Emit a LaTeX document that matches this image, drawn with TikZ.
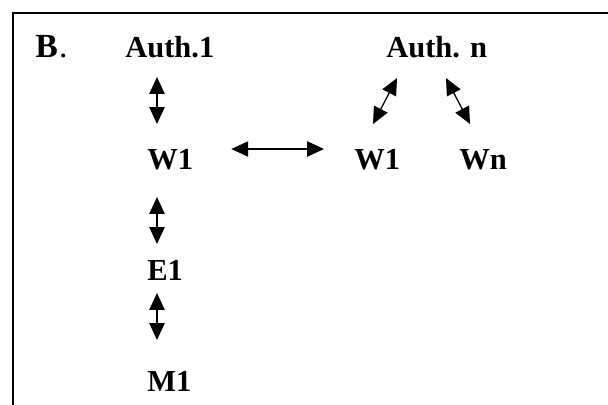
\documentclass[tikz,border=0pt]{standalone}
\usepackage{fontspec}
\setmainfont{Liberation Serif}
\usepackage{tikz}
\usetikzlibrary{arrows.meta}

\begin{document}
\begin{tikzpicture}[
		lbl/.style = {anchor = base west, inner sep = 0pt, font = \fontsize{21.7}{26}\selectfont\bfseries},
		biarr/.style = {draw, line width = 0.9pt, {Triangle[length=0.42cm,width=0.38cm]}-{Triangle[length=0.42cm,width=0.38cm]}}]
		\useasboundingbox (0,0) rectangle (15.2,10.125);
		\path [draw,line width=1.3pt] (15.2,9.8) -- (0.325,9.8) -- (0.325,0);
		\node (tag) at (0.875,8.675) [lbl,font=\fontsize{24}{28}\selectfont] {\textbf{B}\kern1pt.};
		\node (auth1) at (3.125,8.675) [lbl] {Auth.1};
		\node (w1) at (3.675,5.875) [lbl] {W1};
		\node (e1) at (3.675,3.1) [lbl] {E1};
		\node (m1) at (3.675,0.325) [lbl] {M1};
		\node (authn) at (9.65,8.675) [lbl] {Auth. n};
		\node (w1n) at (8.85,5.875) [lbl] {W1};
		\node (wn) at (11.475,5.875) [lbl] {Wn};
		\path [biarr] ([xshift=0.8cm,yshift=-0.475cm]auth1.base west) -- ([xshift=0.25cm,yshift=1.15cm]w1.base west);
		\path [biarr] ([xshift=0.25cm,yshift=-0.675cm]w1.base west) -- ([xshift=0.25cm,yshift=0.925cm]e1.base west);
		\path [biarr] ([xshift=0.25cm,yshift=-0.3cm]e1.base west) -- ([xshift=0.25cm,yshift=1.3cm]m1.base west);
		\path [biarr] ([xshift=0.95cm,yshift=0.525cm]w1.base east) -- ([xshift=-0.75cm,yshift=0.525cm]w1n.base west);
		\path [biarr] ([xshift=0.275cm,yshift=-0.5cm]authn.base west) -- ([xshift=0.475cm,yshift=1.15cm]w1n.base west);
		\path [biarr] ([xshift=1.5cm,yshift=-0.5cm]authn.base west) -- ([xshift=0.275cm,yshift=1.15cm]wn.base west);
	\end{tikzpicture}
\end{document}
